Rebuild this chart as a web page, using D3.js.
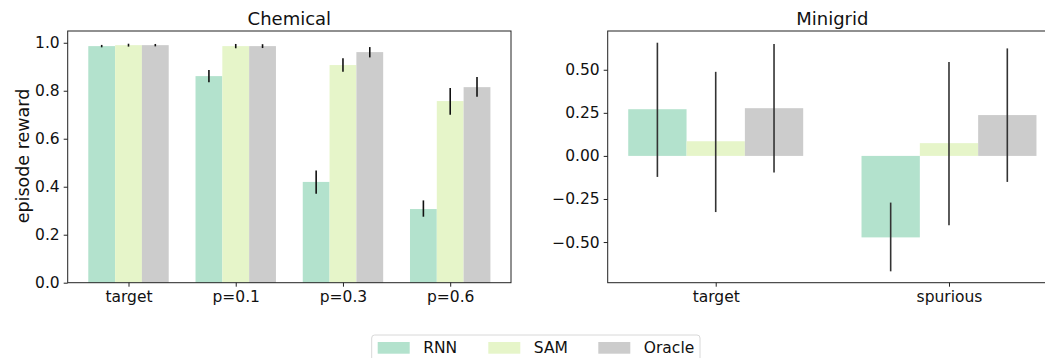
<!DOCTYPE html>
<html>
<head>
<meta charset="utf-8">
<script src="https://cdn.jsdelivr.net/npm/d3@7"></script>
<style>
  body { margin: 0; background: #fff; }
  svg { display: block; font-family: 'DejaVu Sans', sans-serif; }
</style>
</head>
<body>
<div id="chart"></div>
<script>
// data
const methods = ['RNN', 'SAM', 'Oracle'];
const colours = ['#b3e2cd', '#e6f5c9', '#cccccc'];

const chemCats = ['target', 'p=0.1', 'p=0.3', 'p=0.6'];
const chemRNN = [0.986, 0.861, 0.42, 0.307];
const chemSAM = [0.99, 0.986, 0.907, 0.757];
const chemOracle = [0.99, 0.986, 0.961, 0.815];
const chemRNNErr = [[0.981, 0.991], [0.835, 0.886], [0.371, 0.468], [0.275, 0.343]];
const chemSAMErr = [[0.984, 0.996], [0.977, 0.995], [0.879, 0.935], [0.70, 0.811]];
const chemOracleErr = [[0.985, 0.995], [0.978, 0.994], [0.939, 0.982], [0.775, 0.857]];
const chemTicks = [0, 0.2, 0.4, 0.6, 0.8, 1.0];

const gridCats = ['target', 'spurious'];
const gridRNN = [0.271, -0.473];
const gridSAM = [0.085, 0.074];
const gridOracle = [0.277, 0.237];
const gridRNNErr = [[-0.122, 0.657], [-0.670, -0.271]];
const gridSAMErr = [[-0.326, 0.488], [-0.403, 0.545]];
const gridOracleErr = [[-0.097, 0.649], [-0.151, 0.624]];
const gridTicks = [-0.5, -0.25, 0, 0.25, 0.5];

const width = 1045;
const height = 358;
const tickFont = 15.5;

const svg = d3.select('#chart')
  .append('svg')
  .attr('width', width)
  .attr('height', height);

function drawPanel(opts) {
  const { left, right, top, bottom, cats, series, errs, xDomain, yDomain, ticks, tickFmt, title, errColour } = opts;

  const x = d3.scaleLinear().domain(xDomain).range([left, right]);
  const y = d3.scaleLinear().domain(yDomain).range([bottom, top]);
  const bw = 0.25; // bar width in category units

  const g = svg.append('g');

  // bars
  series.forEach((vals, j) => {
    g.append('g')
      .selectAll('rect')
      .data(vals)
      .join('rect')
      .attr('x', (d, i) => x(i + (j - 1) * bw - bw / 2))
      .attr('width', x(bw) - x(0))
      .attr('y', d => Math.min(y(d), y(0)))
      .attr('height', d => Math.abs(y(d) - y(0)))
      .attr('fill', colours[j]);
  });

  // error bars
  errs.forEach((vals, j) => {
    g.append('g')
      .selectAll('line')
      .data(vals)
      .join('line')
      .attr('x1', (d, i) => x(i + (j - 1) * bw))
      .attr('x2', (d, i) => x(i + (j - 1) * bw))
      .attr('y1', d => y(d[0]))
      .attr('y2', d => y(d[1]))
      .attr('stroke', errColour)
      .attr('stroke-width', 1.6);
  });

  // frame
  g.append('rect')
    .attr('x', left)
    .attr('y', top)
    .attr('width', right - left)
    .attr('height', bottom - top)
    .attr('fill', 'none')
    .attr('stroke', '#222')
    .attr('stroke-width', 1);

  // y axis
  const yAxis = d3.axisLeft(y)
    .tickValues(ticks)
    .tickFormat(tickFmt)
    .tickSize(4)
    .tickPadding(4);
  g.append('g')
    .attr('transform', `translate(${left},0)`)
    .call(yAxis)
    .call(a => a.select('.domain').remove())
    .call(a => a.selectAll('text').attr('font-size', tickFont).attr('fill', '#111').attr('font-family', 'DejaVu Sans'))
    .call(a => a.selectAll('line').attr('stroke', '#222'));

  // x axis
  const xAxis = d3.axisBottom(x)
    .tickValues(d3.range(cats.length))
    .tickFormat(i => cats[i])
    .tickSize(4)
    .tickPadding(4);
  g.append('g')
    .attr('transform', `translate(0,${bottom})`)
    .call(xAxis)
    .call(a => a.select('.domain').remove())
    .call(a => a.selectAll('text').attr('font-size', tickFont).attr('fill', '#111').attr('font-family', 'DejaVu Sans'))
    .call(a => a.selectAll('line').attr('stroke', '#222'));

  // title
  svg.append('text')
    .attr('x', (left + right) / 2)
    .attr('y', 25)
    .attr('text-anchor', 'middle')
    .attr('font-size', 18)
    .attr('fill', '#111')
    .text(title);
}

drawPanel({
  left: 67.7, right: 511, top: 31, bottom: 282.7,
  cats: chemCats,
  series: [chemRNN, chemSAM, chemOracle],
  errs: [chemRNNErr, chemSAMErr, chemOracleErr],
  xDomain: [-0.567, 3.567],
  yDomain: [0, 1.049],
  ticks: chemTicks,
  tickFmt: d3.format('.1f'),
  title: 'Chemical',
  errColour: '#111'
});

drawPanel({
  left: 607.7, right: 1057, top: 31, bottom: 282.7,
  cats: gridCats,
  series: [gridRNN, gridSAM, gridOracle],
  errs: [gridRNNErr, gridSAMErr, gridOracleErr],
  xDomain: [-0.463, 1.463],
  yDomain: [-0.736, 0.725],
  ticks: gridTicks,
  tickFmt: d => d3.format('.2f')(d).replace('-', '\u2212'),
  title: 'Minigrid',
  errColour: '#333'
});

// y label
svg.append('text')
  .attr('transform', 'translate(29,156) rotate(-90)')
  .attr('text-anchor', 'middle')
  .attr('font-size', 17.5)
  .attr('fill', '#111')
  .text('episode reward');

// legend
const legend = svg.append('g');
legend.append('rect')
  .attr('x', 371.7)
  .attr('y', 335)
  .attr('width', 328.3)
  .attr('height', 40)
  .attr('rx', 3)
  .attr('fill', '#fff')
  .attr('stroke', '#d8d8d8')
  .attr('stroke-width', 1);

const legendX = [377.7, 488.3, 598.3];
const items = legend.selectAll('g.item')
  .data(methods)
  .join('g')
  .attr('class', 'item')
  .attr('transform', (d, i) => `translate(${legendX[i]},0)`);
items.append('rect')
  .attr('x', 0)
  .attr('y', 342)
  .attr('width', 32)
  .attr('height', 11.7)
  .attr('fill', (d, i) => colours[i]);
items.append('text')
  .attr('x', 45.5)
  .attr('y', 353.3)
  .attr('font-size', tickFont)
  .attr('fill', '#111')
  .text(d => d);
</script>
</body>
</html>
